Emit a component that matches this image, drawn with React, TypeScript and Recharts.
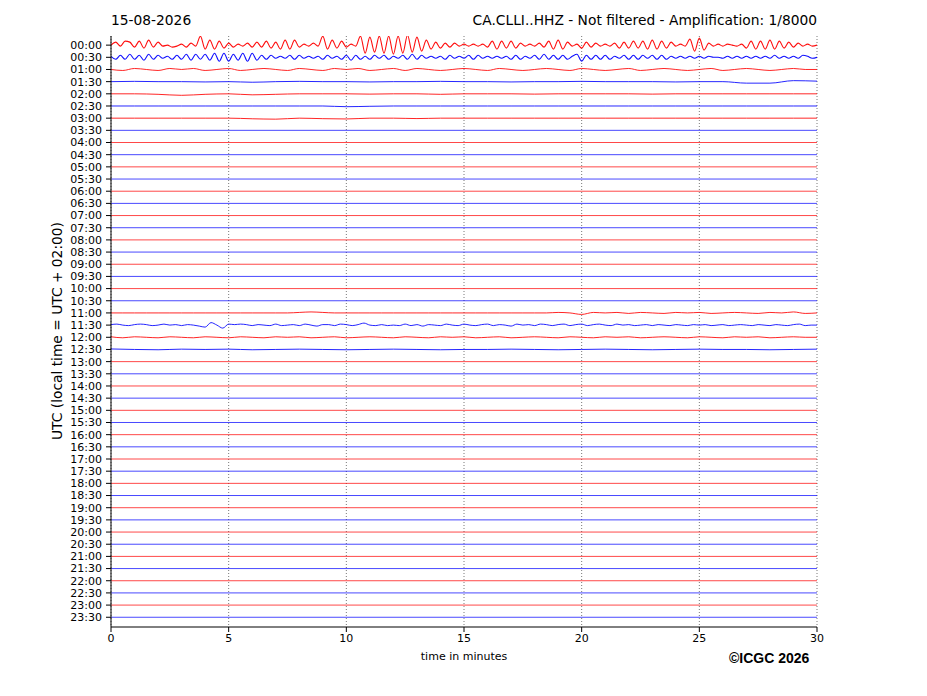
import React from 'react';
import { LineChart, Line, XAxis, YAxis, CartesianGrid } from 'recharts';

// row labels, one trace per half hour
const ROW_LABELS = [
  '00:00', '00:30', '01:00', '01:30', '02:00', '02:30', '03:00', '03:30',
  '04:00', '04:30', '05:00', '05:30', '06:00', '06:30', '07:00', '07:30',
  '08:00', '08:30', '09:00', '09:30', '10:00', '10:30', '11:00', '11:30',
  '12:00', '12:30', '13:00', '13:30', '14:00', '14:30', '15:00', '15:30',
  '16:00', '16:30', '17:00', '17:30', '18:00', '18:30', '19:00', '19:30',
  '20:00', '20:30', '21:00', '21:30', '22:00', '22:30', '23:00', '23:30',
];
const ROW_TICKS = ROW_LABELS.map((_, i) => i);
const MINUTE_TICKS = [0, 5, 10, 15, 20, 25, 30];
const TRACE_COLORS = ['#ff0000', '#0000ff'];

// trace amplitudes in pixels (up = positive), evenly spread over 0..30 min
const TRACE_0000 = [
  0, 3, -1, 4, 3, -2, 4, -3, 5, -2, 3, -1, 0, -2, -1, 1, -2, 2, -1, 9,
  -4, 5, -4, 4, -3, 2, -2, 1, -1, 2, -2, 3, -2, 4, -3, 3, -4, 5, -4, 5,
  -2, 1, -1, 2, -1, 9, -4, 5, -3, 4, -2, 1, -1, 9, -8, 8, -7, 9, -8, 9,
  -9, 9, -8, 10, -7, 8, -6, 5, -4, 3, -3, 2, -2, 2, -1, 1, -1, 1, -1, 1,
  -2, 4, -4, 4, -3, 4, -3, 2, -1, 1, -1, 2, -2, 4, -4, 5, -4, 3, -1, 1,
  -3, 3, -2, 2, -1, 1, -1, 2, -3, 3, -3, 4, -3, 4, -4, 5, -4, 4, -3, 3,
  -1, 1, -1, 6, -6, 7, -5, 2, -1, 1, -1, 1, 0, -1, 1, -3, 4, -4, 4, -4,
  5, -4, 4, -3, 3, -2, 2, -1, 1, -1, 0,
];
const TRACE_0030 = [
  1, -2, 2, -2, 3, -2, 2, -3, 3, -2, 2, -1, 1, -2, 2, -2, 3, -3, 3, -2,
  3, -3, 4, -4, 4, -4, 3, -3, 4, -4, 4, -3, 2, -2, 2, -1, 1, -1, 2, -2,
  2, -1, 1, -1, 1, -2, 2, -1, 1, -2, 2, -3, 2, -2, 1, -2, 2, -1, 2, -2,
  1, -1, 2, -2, 3, -2, 2, -1, 1, -1, 1, -2, 2, -1, 1, -1, 2, -2, 2, -1,
  1, -1, 1, -1, 1, -2, 2, -2, 1, -1, 2, -2, 3, -2, 2, -2, 2, -2, 1, 3,
  -4, 2, -2, 2, -2, 2, -2, 1, -1, 2, -2, 2, -2, 2, -1, 2, -2, 2, -2, 1,
  -1, 1, -1, 1, -1, 1, -1, 1, 0, 0, -1, 1, -1, 1, -1, 1, -1, 1, -1, 1,
  -1, 2, -1, 1, -1, 1, -1, 2, 1, -1, 0,
];
const TRACE_0100 = [
  0, -1, 1, 0, -1, 1, 0, 1, -1, 0, 1, -1, 0, 1, 0, -1, 1, 0, -1, 1,
  0, 1, -1, 0, 1, -1, 1, 0, -1, 0, 1, 0, -1, 1, 0, -1, 0, 1, 0, -1,
  1, 0, -1, 0, 1, -1, 0, 1, 0, -1, 0, 1, -1, 0, 1, 0, -1, 0, 1, 0, 0,
];
const TRACE_0130 = [
  0, 0.3, 0, 0, -0.3, 0, -0.6, 0, 0.3, 0, 0, -0.3, 0, 0, 0.3, 0,
  0, -0.3, 0, 0, 0.3, 0, 0, 0, -0.3, 0, 0, -1.5, -1.5, 1, 0.5,
];
const TRACE_0200 = [
  0, 0, -0.5, -1.5, -0.5, 0, -1, -0.5, 0, 0, 0, -0.3, 0, 0, -0.5, 0,
  0, 0, -0.3, 0, 0, 0, 0, -0.3, 0, 0, 0, 0, 0, 0, 0,
];
const TRACE_0230 = [
  0, 0, 0, 0, 0, 0, 0, 0, 0, 0, -0.7, -0.3, 0, 0, 0, 0,
  0, 0, 0, 0, 0, 0, 0, 0, 0, 0, 0, 0, 0, 0, 0,
];
const TRACE_0300 = [
  0, 0, 0, 0, 0, 0, -0.6, -1, 0, -0.5, -0.8, 0, 0, -0.4, 0, 0,
  0, 0, 0, 0, 0, 0, 0, 0, 0, 0, 0, 0, 0, 0, 0,
];
const TRACE_1100 = [
  0, 0, 0, 0, 0, 0, 0, 0, 0, 0, 0, 0, 0, 0, 0, 0,
  0.5, 1, 0.5, 0,
  0, 0, 0, 0, 0, 0, 0, 0, 0, 0, 0, 0, 0, 0, 0, 0, 0, 0,
  0.5, 0, -1.5, 0.5, 0, 0.5, -0.5, 0.5, 0, -0.5, 0.5, 0, 0.5, -0.5, 0, 0.5, 0, -0.5, 0.5, 0, 1, -0.5, 0,
];
const TRACE_1130 = [
  0.5, 1, 0, -0.5, 0.5, 1, 0.5, -0.5,
  0, 1, 0, 0.5, -0.5, 0.5, 0, -1,
  -2, 2.5, 0, -3, 1, 0.5, 1, 0.5,
  -0.5, 0.5, 0, -0.5, 1, -0.5, 0, 0.5,
  -0.5, 1, 0, -1, 0.5, 0.5, -0.5, 1,
  0.5, -0.5, 0.5, 2, 0, -0.5, 0.5, -0.5,
  0, -0.5, 1, -0.5, 0.5, -1, 0.5, 0,
  -0.5, 1, 0, -0.5, 1, 0, -0.5, 0.5,
  1, -0.5, 0.5, 0, -1, 1, 0, 0.5,
  -0.5, 1, 0.5, -0.5, 0.5, 1, -0.5, 0.5,
  1, -0.5, 0.5, 1, 0, -0.5, 1, 0,
  0.5, -0.5, 0, 0.5, -0.5, 0.5, 0, -0.5,
  0.5, 0, -0.5, 0.5, 0, 0.5, -0.5, 0,
  0.5, -0.5, 0, 0.5, 0, -0.5, 0.5, 0,
  -0.5, 0.5, 0, -0.5, 0.5, 1, -0.5, 0,
  0,
];
const TRACE_1200 = [
  0.5, -0.5, 0.5, 0, -0.5, 0.5, 0, -0.5, 0.5, 0,
  -0.5, 0.5, 0, -0.5, 0.5, 0, 0.5, -0.5, 0, 0.5,
  -0.5, 0, 0.5, 0, -0.5, 0.5, 0, -0.5, 0.5, 0,
  0.5, -0.5, 0, 0.5, -0.5, 0, 0.5, 0, -0.5, 0.5,
  0, -0.5, 0.5, 0, 0.5, -0.5, 0, 0.5, 0, -0.5,
  0.5, 0, -0.5, 0.5, 0, 0.5, -0.5, 0, 0.5, 0, 0,
];
const TRACE_1230 = [
  0.5, 0, -0.3, 0.3, 0, 0.3, -0.3, 0, 0.3, 0, -0.3, 0, 0.3, 0, -0.3, 0,
  0, 0.3, 0, -0.3, 0, 0.3, 0, -0.3, 0, 0.3, 0, 0, -0.3, 0, 0.3,
];
const TRACE_FLAT = [0, 0];

const TRACE_BY_ROW: Record<number, number[]> = {
  0: TRACE_0000, 1: TRACE_0030, 2: TRACE_0100, 3: TRACE_0130, 4: TRACE_0200,
  5: TRACE_0230, 6: TRACE_0300, 22: TRACE_1100, 23: TRACE_1130, 24: TRACE_1200,
  25: TRACE_1230,
};

const PX_PER_ROW = 12.17;
const FONT = '"DejaVu Sans", sans-serif';

const traceData = (row: number) => {
  const values = TRACE_BY_ROW[row] || TRACE_FLAT;
  const step = 30 / (values.length - 1);
  return values.map((v, i) => ({ t: i * step, y: row - v / PX_PER_ROW }));
};

const App: React.FC = () => {
  return (
    <div style={{ position: 'absolute', left: 0, top: 0, width: 927, height: 696, background: '#fff', fontFamily: FONT }}>
      <div style={{ position: 'absolute', left: 111, top: 12, fontSize: 13.8, lineHeight: '16px' }}>15-08-2026</div>
      <div style={{ position: 'absolute', right: 927 - 817, top: 12, fontSize: 13.8, lineHeight: '16px', whiteSpace: 'nowrap' }}>
        CA.CLLI..HHZ - Not filtered - Amplification: 1/8000
      </div>
      <div
        style={{
          position: 'absolute', left: 57, top: 331, fontSize: 13.8, lineHeight: '16px', whiteSpace: 'nowrap',
          transform: 'translate(-50%, -50%) rotate(-90deg)',
        }}
      >
        UTC (local time = UTC + 02:00)
      </div>
      <div style={{ position: 'absolute', left: 464, top: 657, fontSize: 11, lineHeight: '12px', transform: 'translate(-50%, -50%)', whiteSpace: 'nowrap' }}>
        time in minutes
      </div>
      <div style={{ position: 'absolute', left: 729, top: 650, fontSize: 14, lineHeight: '16px', fontWeight: 'bold', fontFamily: '"Liberation Sans", Arial, sans-serif', whiteSpace: 'nowrap' }}>
        ©ICGC 2026
      </div>

      <LineChart width={927} height={696} margin={{ top: 36, right: 110, bottom: 39, left: 51 }} style={{ fontFamily: FONT }}>
        <CartesianGrid horizontal={false} strokeDasharray="1 2" stroke="#555" strokeWidth={0.8} />
        <XAxis
          dataKey="t" type="number" domain={[0, 30]} ticks={MINUTE_TICKS} allowDataOverflow
          height={30} tickSize={5} tickMargin={2} stroke="#000"
          tick={{ fontSize: 11, fill: '#000' }}
        />
        <XAxis xAxisId="top" orientation="top" type="number" domain={[0, 30]} height={0} tick={false} tickLine={false} stroke="#000" />
        <YAxis
          type="number" domain={[-0.75, 47.8]} reversed allowDataOverflow ticks={ROW_TICKS} interval={0}
          tickFormatter={(v: number) => ROW_LABELS[v] ?? ''}
          width={60} tickSize={5} tickMargin={4} stroke="#000"
          tick={{ fontSize: 11, fill: '#000' }}
        />
        <YAxis yAxisId="right" orientation="right" type="number" domain={[0, 1]} width={0} tick={false} tickLine={false} stroke="#000" />
        {ROW_LABELS.map((label, row) => {
          const active = row in TRACE_BY_ROW;
          return (
            <Line
              key={label}
              data={traceData(row)}
              dataKey="y"
              type={active ? 'monotone' : 'linear'}
              stroke={TRACE_COLORS[row % 2]}
              strokeWidth={row < 2 ? 1.1 : 0.9}
              strokeOpacity={active ? 0.95 : 0.8}
              dot={false}
              activeDot={false}
              isAnimationActive={false}
            />
          );
        })}
      </LineChart>
    </div>
  );
};

export default App;
